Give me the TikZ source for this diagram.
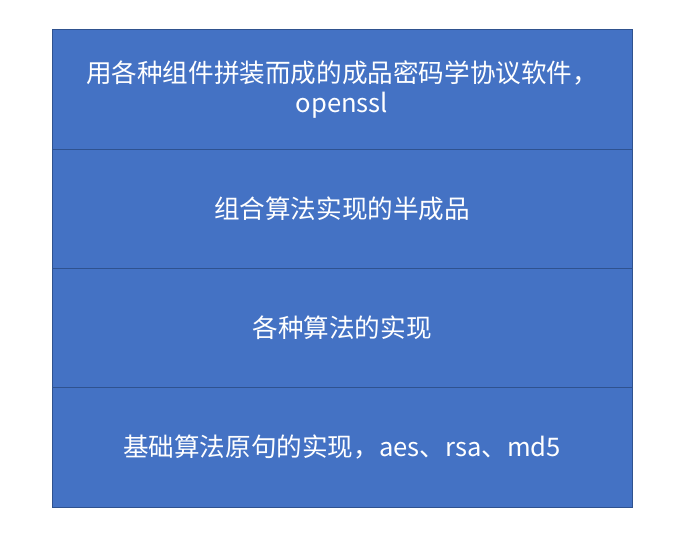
\documentclass[tikz,border=0pt]{standalone}
\usepackage{fontspec}
\usepackage{tikz}
\newfontfamily\cjk{Noto Sans CJK SC}
\definecolor{boxfill}{HTML}{4472C4}
\definecolor{boxline}{HTML}{2F528F}

\begin{document}
\begin{tikzpicture}[x=1pt,y=-1pt,
    layer/.style={draw=boxline, line width=1pt, fill=boxfill, text=white,
        minimum width=580pt, minimum height=119.25pt, inner sep=0pt,
        align=center, font=\cjk\fontsize{25.6}{30}\selectfont}]
\useasboundingbox (0,0) rectangle (696,543);
\foreach \i/\t in {1/{用各种组件拼装而成的成品密码学协议软件，\\openssl},
                   2/{组合算法实现的半成品},
                   3/{各种算法的实现},
                   4/{基础算法原句的实现，aes、rsa、md5}} {
    \node[layer] (l\i) at (342,30+119.25*\i-59.625) {\t};
}
\end{tikzpicture}
\end{document}
